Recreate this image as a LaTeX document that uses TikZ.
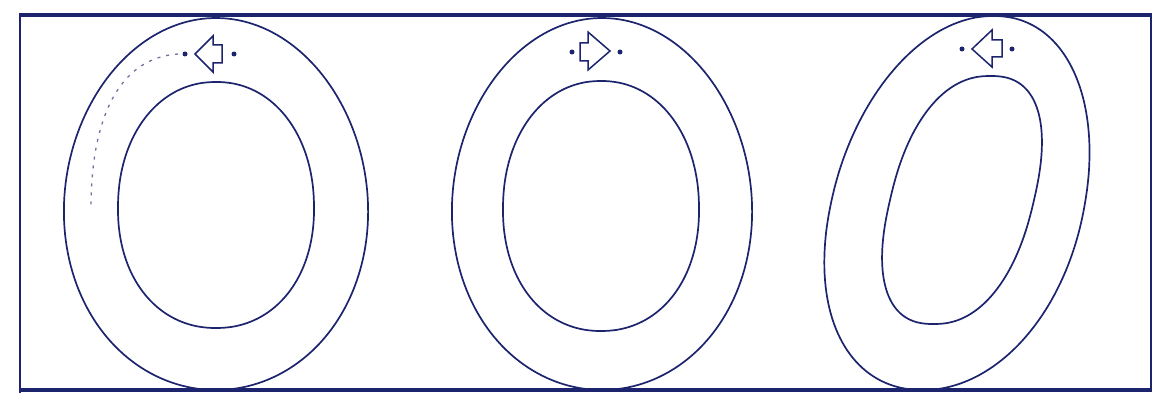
\documentclass[tikz,border=0pt]{standalone}
\definecolor{ink}{RGB}{28,36,110}
\definecolor{dashink}{RGB}{110,115,155}
\tikzset{
  outline/.style={draw=ink, line width=1.7pt},
  framel/.style={draw=ink, line width=2.4pt},
  arrowglyph/.style={draw=ink, fill=white, line width=1.5pt, line join=miter},
  guide/.style={draw=dashink, line width=1.3pt, dash pattern=on 3pt off 6pt},
  dotmark/.style={fill=ink}
}
% superellipse loop: cx cy rx ry n shear egg
\newcommand\letterloop[7]{%
  \draw[outline] plot[domain=0.5:360.5, samples=181]
   ({#1 + #3*sign(cos(\x))*pow(abs(cos(\x)),2/#5)*(1+#7*sign(sin(\x))*pow(abs(sin(\x)),2/#5)) - #6*#4*sign(sin(\x))*pow(abs(sin(\x)),2/#5)},
    {#2 + #4*sign(sin(\x))*pow(abs(sin(\x)),2/#5)}) -- cycle;
}
\begin{document}
\begin{tikzpicture}[x=1pt, y=-1pt]
\useasboundingbox (0,0) rectangle (1153,393);
% frame
\draw[framel, line width=3.2pt] (19,15) -- (1152,15);
\draw[framel, line width=2.4pt] (20,15) -- (20,393);
\draw[framel, line width=1.8pt] (1151,15) -- (1151,390);
\draw[framel, line width=3.2pt] (20,390) -- (1152,390);

% first O
\letterloop{216}{204}{152}{186}{2}{0}{0.04}
\letterloop{216}{205}{98}{123}{2.12}{0}{0.02}
\draw[guide] (178,54) .. controls (118,58) and (91,120) .. (91,208);
\fill[dotmark] (185,54) circle (2.5);
\fill[dotmark] (234,54) circle (2.5);
\draw[arrowglyph] (195,54) -- (213,36) -- (213,45) -- (222,45) -- (222,63) -- (213,63) -- (213,72) -- cycle;

% second O
\letterloop{602}{204}{150}{186}{2}{0}{0.04}
\letterloop{601}{206}{98}{125}{2.12}{0}{0.02}
\fill[dotmark] (572,52) circle (2.5);
\fill[dotmark] (620,52) circle (2.5);
\draw[arrowglyph] (610,51) -- (588,32) -- (588,43) -- (580,43) -- (580,61) -- (588,61) -- (588,70) -- cycle;

% third O (slanted)
\letterloop{958}{203}{127}{187}{2.08}{0.19}{0.03}
\letterloop{962}{200}{72}{124}{2.35}{0.23}{0}
\fill[dotmark] (962,49) circle (2.5);
\fill[dotmark] (1012,49) circle (2.5);
\draw[arrowglyph] (972,49) -- (992,30) -- (992,40) -- (1002,40) -- (1002,57) -- (992,57) -- (992,67) -- cycle;
\end{tikzpicture}
\end{document}
